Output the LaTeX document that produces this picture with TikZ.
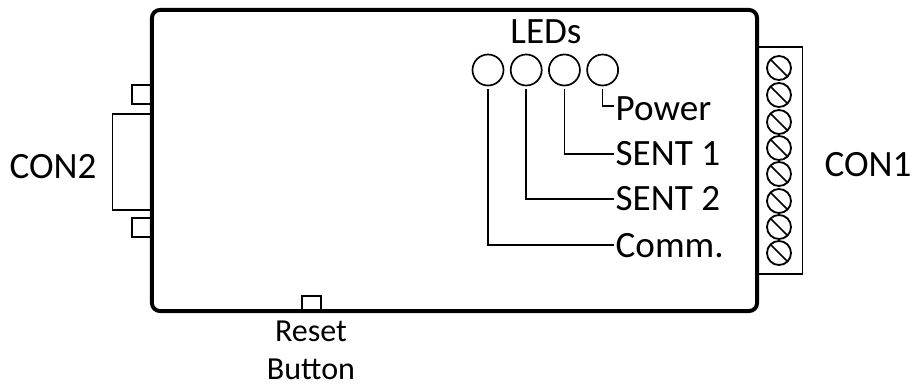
\documentclass[tikz,border=0pt]{standalone}
\usepackage{fontspec}
\setmainfont{Carlito}
\usetikzlibrary{positioning}
\tikzset{
  part/.style={draw,line width=1.3pt,inner sep=0pt},
  led/.style={draw,circle,line width=1.2pt,inner sep=0pt,minimum size=.775cm,outer sep=.09cm},
  screw/.style={draw,circle,line width=1.3pt,inner sep=0pt,minimum size=.6cm,outer sep=0pt},
  lbl/.style={inner sep=1pt,font=\fontsize{26.4}{30}\selectfont,text height=.62cm,text depth=.02cm},
  small lbl/.style={inner sep=1pt,font=\fontsize{22.8}{26}\selectfont,text height=.52cm,text depth=.02cm},
  lead/.style={line width=1.2pt}
}
\begin{document}
\begin{tikzpicture}[x=.025cm,y=-.025cm]
\useasboundingbox (0,0) rectangle (915,385);
% parts on the outside of the case
\node[part,minimum width=.5cm,minimum height=.475cm](clipa) at (142,94.5){};
\node[part,minimum width=.5cm,minimum height=.475cm](clipb) at (142,227.5){};
\node[part,minimum width=1cm,minimum height=2.4cm](dsub) at (132.5,162){};
\node[part,minimum width=1.15cm,minimum height=5.675cm](term) at (779.5,160.5){};
\node[part,minimum width=.475cm,minimum height=.4cm](btn) at (311.5,304){};
% case
\node[draw,line width=2.8pt,rounded corners=.2cm,inner sep=0pt,minimum width=15.125cm,minimum height=7.525cm](body) at (454.5,160.5){};
% screws
\foreach \i/\y in {1/68,2/95,3/122,4/148,5/174,6/201,7/227,8/253}{
  \node[screw](scr\i) at (779,\y){};
  \draw[lead] (scr\i.north west) -- (scr\i.south east);
}
% LEDs
\node[led](ledc) at (488,70){};
\node[led,right=0cm of ledc](leds){};
\node[led,right=0cm of leds](ledf){};
\node[led,right=0cm of ledf](ledp){};
% labels
\node[lbl](ledt) at (546,32){LEDs};
\node[lbl,anchor=west](lblp) at (614,109){Power};
\node[lbl,anchor=west](lblf) at (614,154){SENT 1};
\node[lbl,anchor=west](lbls) at (614,199){SENT 2};
\node[lbl,anchor=west](lblc) at (614,245){Comm.};
\node[lbl](con2) at (53,167){CON2};
\node[lbl](con1) at (868,165){CON1};
\node[small lbl](rst) at (311,331){Reset};
\node[small lbl,below=.34cm of rst](bttn){Button};
% leads
\draw[lead] (ledc) |- (lblc);
\draw[lead] (leds) |- (lbls);
\draw[lead] (ledf) |- (lblf);
\draw[lead] (ledp.south) |- ([yshift=.075cm]lblp.west);
\end{tikzpicture}
\end{document}
